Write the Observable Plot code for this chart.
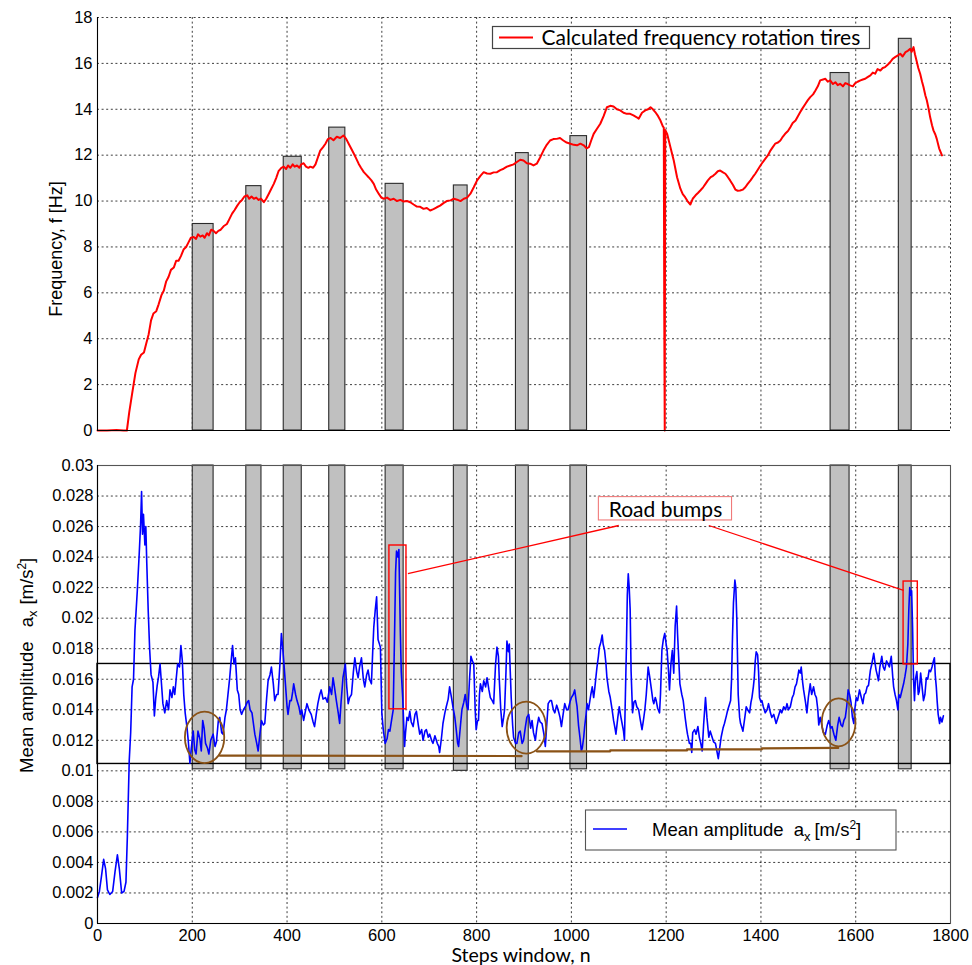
<!DOCTYPE html>
<html>
<head>
<meta charset="utf-8">
<script src="https://cdn.jsdelivr.net/npm/d3@7"></script>
<script src="https://cdn.jsdelivr.net/npm/@observablehq/plot@0.6"></script>
<style>
  html, body { margin: 0; padding: 0; background: #fff; }
  #wrap { position: relative; width: 972px; height: 965px; overflow: hidden; }
  #top, #bottom { position: absolute; left: 0; }
  #top { top: 0; }
  #bottom { top: 445px; }
  svg { overflow: visible; }
</style>
</head>
<body>
<div id="wrap"><div id="top"></div><div id="bottom"></div></div>
<script>
// ---- axes ----
const xTicks = [0, 200, 400, 600, 800, 1000, 1200, 1400, 1600, 1800];
const xTickLabels = ["0", "200", "400", "600", "800", "1000", "1200", "1400", "1600", "1800"];
const freqTicks = [0, 2, 4, 6, 8, 10, 12, 14, 16, 18];
const freqTickLabels = ["0", "2", "4", "6", "8", "10", "12", "14", "16", "18"];
const ampTicks = [0, 0.002, 0.004, 0.006, 0.008, 0.01, 0.012, 0.014, 0.016, 0.018, 0.02, 0.022, 0.024, 0.026, 0.028, 0.03];
const ampTickLabels = ["0", "0.002", "0.004", "0.006", "0.008", "0.01", "0.012", "0.014", "0.016", "0.018", "0.02", "0.022", "0.024", "0.026", "0.028", "0.03"];

// ---- bump windows (grey bars) ----
const bumpStart = [201, 314, 393, 489, 608, 752, 883, 998, 1547, 1691];
const bumpEnd   = [245, 346, 431, 523, 646, 781, 910, 1033, 1587, 1718];
const bumpFreq  = [9.0, 10.65, 11.93, 13.2, 10.75, 10.68, 12.09, 12.83, 15.58, 17.07];
const bumpAmpLow = [0.0101, 0.0101, 0.0101, 0.0101, 0.0101, 0.0100, 0.0101, 0.0101, 0.0101, 0.0101];
const bumpAmpHigh = 0.03;

// ---- calculated rotation frequency of the tires ----
const rotStep = [0,20,40,55,62,67,73,80,87,92,98,103,108,113,118,124,129,135,140,145,150,155,161,166,171,176,182,187,192,197,
  203,208,212,217,222,226,231,235,240,245,250,255,260,266,273,278,284,289,295,300,305,310,316,320,325,330,335,340,345,351,
  356,361,366,372,377,382,388,393,398,402,407,412,416,421,426,430,435,440,445,449,455,460,465,470,476,481,486,492,498,505,
  512,519,525,530,535,541,546,551,556,562,567,572,578,583,588,594,599,604,611,618,625,632,639,646,653,660,667,674,681,688,
  695,702,709,716,723,730,737,745,752,759,766,773,780,787,794,801,808,815,822,829,836,843,850,857,864,871,878,885,892,899,
  906,913,920,927,934,941,948,955,962,969,976,983,990,998,1005,1012,1019,1026,1032,1037,1042,1047,1054,1061,1068,1075,1082,1089,1096,1103,
  1110,1117,1124,1131,1138,1142,1149,1156,1162,1167,1172,1177,1183,1188,1193,1195,1196,1197,1198,1202,1209,1216,1223,1230,1235,1240,
  1245,1251,1256,1262,1267,1272,1278,1283,1288,1294,1299,1304,1309,1314,1320,1325,1330,1335,1341,1346,1351,1356,1362,1367,1372,1378,
  1383,1388,1393,1399,1404,1409,1415,1420,1425,1430,1436,1441,1446,1451,1457,1462,1467,1473,1478,1483,1488,1494,1499,1504,1510,1515,
  1520,1525,1531,1536,1541,1546,1552,1557,1562,1567,1573,1578,1583,1588,1594,1599,1604,1610,1615,1620,1625,1631,1636,1641,1646,1652,
  1657,1662,1668,1673,1678,1683,1689,1694,1699,1705,1710,1715,1718,1722,1725,1729,1732,1736,1740,1743,1747,1750,1754,1757,1761,1764,
  1768,1771,1776,1782];
const rotFreq = [0,0,0.02,0,0,0.8,1.6,2.5,3.1,3.3,3.4,3.8,4.2,4.8,5.1,5.2,5.5,5.9,6.1,6.5,6.7,7.0,7.1,7.4,7.4,7.6,7.9,8.0,8.2,8.4,
  8.43,8.35,8.55,8.45,8.5,8.4,8.6,8.5,8.75,8.7,8.6,8.7,8.75,8.9,9.0,9.2,9.45,9.6,9.8,9.95,10.05,10.2,10.25,10.1,10.2,10.1,10.15,10.05,10.1,9.95,
  10.1,10.3,10.5,10.75,11.0,11.3,11.45,11.5,11.4,11.55,11.45,11.6,11.5,11.55,11.45,11.6,11.65,11.5,11.45,11.5,11.45,11.6,11.9,12.2,12.35,12.5,12.7,12.75,12.65,12.8,
  12.75,12.86,12.7,12.5,12.3,12.06,11.85,11.63,11.45,11.26,11.15,11.04,10.9,10.75,10.5,10.3,10.15,10.1,10.15,10.05,10.1,10.0,10.05,9.98,10.0,9.95,9.85,9.76,9.75,9.66,
  9.7,9.59,9.65,9.73,9.8,9.91,10.0,10.03,10.1,10.06,10.0,10.1,10.15,10.32,10.6,10.9,11.1,11.26,11.2,11.19,11.25,11.26,11.35,11.41,11.5,11.55,11.6,11.7,11.8,11.77,
  11.65,11.63,11.55,11.63,11.9,12.2,12.45,12.64,12.7,12.71,12.75,12.64,12.55,12.5,12.45,12.43,12.5,12.43,12.3,12.35,12.65,12.93,13.15,13.37,13.7,14.09,14.15,14.12,14.0,13.95,
  13.85,13.8,13.8,13.73,13.65,13.59,13.85,13.95,14.0,14.09,14.0,13.88,13.7,13.51,13.25,13.2,4.8,0,13.1,12.93,12.35,11.77,11.04,10.54,10.3,10.17,
  10.0,9.85,10.1,10.25,10.35,10.46,10.6,10.75,10.9,11.04,11.1,11.19,11.3,11.33,11.25,11.19,11.05,10.9,10.7,10.5,10.45,10.46,10.5,10.6,10.75,10.9,
  11.05,11.19,11.35,11.55,11.7,11.84,12.0,12.2,12.35,12.5,12.55,12.64,12.8,12.93,13.05,13.22,13.4,13.51,13.7,13.88,14.05,14.24,14.4,14.53,14.65,14.82,
  15.0,15.26,15.3,15.33,15.2,15.26,15.1,15.18,15.05,15.11,15.0,15.14,15.1,15.04,15.0,15.14,15.2,15.26,15.3,15.33,15.4,15.48,15.6,15.55,15.75,15.69,
  15.8,15.84,15.95,16.06,16.2,16.27,16.35,16.42,16.3,16.49,16.55,16.64,16.5,16.71,16.4,16.06,15.8,15.55,15.2,14.97,14.6,14.39,14.0,13.66,13.3,13.08,
  12.9,12.71,12.3,11.99];

// ---- mean amplitude a_x ----
const ampStep = [0,4,8,13,17,21,26,32,37,42,46,51,56,60,63,67,70,73,76,79,84,88,91,93,95,97,100,102,104,107,110,113,117,120,123,126,129,132,135,138,
  142,146,150,153,157,160,163,166,169,173,176,179,182,185,189,192,195,198,202,205,208,212,216,219,222,225,228,232,235,239,244,248,251,255,258,262,265,269,272,276,
  279,282,285,288,291,295,298,301,304,308,312,316,319,322,326,329,332,336,339,342,346,350,353,357,360,364,367,371,374,378,381,385,388,391,393,397,400,402,406,409,
  412,414,418,421,425,428,431,435,438,442,446,451,455,458,462,465,469,472,476,481,485,490,494,497,500,504,508,511,514,518,523,526,529,532,536,540,543,547,550,553,
  557,561,564,568,571,574,578,581,583,586,589,592,595,597,600,603,607,611,614,617,620,624,627,629,631,634,636,639,641,644,648,650,653,656,659,662,666,670,673,677,
  680,684,687,691,694,698,701,705,708,712,717,720,722,726,729,733,736,740,743,747,750,754,757,760,762,766,769,773,776,779,782,785,788,791,794,797,799,802,804,806,
  808,812,815,819,822,826,829,833,836,840,843,846,848,851,854,857,859,862,864,867,869,871,873,876,878,882,885,889,892,896,899,903,906,910,914,917,920,924,927,931,
  934,938,942,945,948,951,955,958,962,965,969,972,976,979,983,986,990,993,997,1000,1004,1007,1010,1012,1015,1018,1021,1023,1026,1028,1031,1033,1036,1039,1041,1044,1047,1049,1052,1054,
  1057,1059,1062,1065,1067,1070,1073,1075,1079,1082,1086,1089,1092,1094,1098,1101,1104,1107,1110,1112,1114,1116,1118,1120,1122,1124,1126,1129,1132,1135,1138,1142,1145,1149,1152,1155,1158,1162,1165,1169,
  1172,1174,1177,1179,1182,1186,1188,1191,1194,1197,1200,1202,1205,1207,1210,1213,1216,1219,1222,1224,1227,1229,1233,1236,1240,1243,1245,1249,1252,1254,1256,1260,1263,1267,1270,1273,1276,1279,1283,1286,
  1290,1293,1297,1300,1304,1307,1310,1313,1316,1320,1323,1327,1330,1333,1336,1338,1340,1342,1345,1347,1349,1352,1355,1357,1360,1362,1366,1369,1372,1376,1379,1381,1384,1386,1388,1390,1393,1395,1397,1400,
  1402,1405,1409,1413,1416,1420,1423,1427,1432,1436,1441,1444,1448,1452,1455,1458,1462,1466,1469,1472,1475,1478,1480,1483,1485,1488,1490,1494,1497,1500,1504,1507,1511,1514,1517,1520,1522,1525,1529,1532,
  1536,1540,1543,1547,1550,1554,1558,1562,1565,1569,1572,1575,1578,1581,1584,1587,1590,1593,1596,1598,1601,1604,1608,1611,1615,1618,1621,1624,1627,1631,1634,1638,1641,1643,1646,1648,1651,1655,1658,1661,
  1665,1668,1671,1675,1678,1680,1683,1686,1689,1691,1694,1697,1701,1704,1707,1710,1712,1714,1716,1718,1720,1722,1724,1726,1729,1732,1734,1737,1740,1743,1746,1749,1752,1755,1758,1761,1764,1766,1768,1770,
  1772,1774,1777,1779,1782,1785];
const ampValue = [0.0017,0.0021,0.0030,0.0042,0.0036,0.0022,0.0019,0.0021,0.0034,0.0045,0.0036,0.0020,0.0021,0.0027,0.0057,0.0107,0.0125,0.0155,0.0160,0.0192,0.0218,0.0242,0.0262,0.0283,0.0255,0.0268,0.0248,0.0260,0.0236,0.0205,0.0180,0.0163,0.0158,0.0136,0.0148,0.0156,0.0162,0.0170,0.0157,0.0144,
  0.0138,0.0146,0.0140,0.0153,0.0148,0.0155,0.0150,0.0160,0.0170,0.0168,0.0182,0.0172,0.0150,0.0138,0.0128,0.0118,0.0105,0.0115,0.0126,0.0114,0.0111,0.0126,0.0121,0.0113,0.0133,0.0128,0.0118,0.0115,0.0111,0.0120,0.0124,0.0116,0.0119,0.0133,0.0135,0.0125,0.0124,0.0135,0.0140,0.0152,
  0.0161,0.0172,0.0182,0.0170,0.0174,0.0153,0.0150,0.0140,0.0137,0.0140,0.0142,0.0145,0.0146,0.0140,0.0138,0.0131,0.0124,0.0118,0.0113,0.0122,0.0133,0.0130,0.0131,0.0148,0.0159,0.0163,0.0168,0.0157,0.0146,0.0150,0.0150,0.0170,0.0190,0.0180,0.0172,0.0155,0.0142,0.0137,0.0146,0.0146,
  0.0152,0.0157,0.0150,0.0146,0.0142,0.0137,0.0140,0.0133,0.0138,0.0144,0.0140,0.0137,0.0132,0.0129,0.0138,0.0144,0.0150,0.0153,0.0147,0.0148,0.0145,0.0155,0.0150,0.0161,0.0155,0.0146,0.0138,0.0131,0.0145,0.0161,0.0170,0.0155,0.0144,0.0148,0.0150,0.0165,0.0174,0.0165,0.0161,0.0168,
  0.0174,0.0160,0.0155,0.0163,0.0166,0.0160,0.0157,0.0180,0.0194,0.0205,0.0214,0.0186,0.0183,0.0181,0.0138,0.0127,0.0118,0.0121,0.0127,0.0126,0.0132,0.0140,0.0192,0.0230,0.0244,0.0240,0.0245,0.0192,0.0165,0.0148,0.0116,0.0125,0.0135,0.0133,0.0139,0.0132,0.0129,0.0137,0.0139,0.0130,
  0.0124,0.0127,0.0120,0.0126,0.0127,0.0122,0.0124,0.0120,0.0118,0.0123,0.0118,0.0116,0.0112,0.0122,0.0131,0.0138,0.0142,0.0147,0.0155,0.0148,0.0142,0.0135,0.0127,0.0118,0.0116,0.0130,0.0140,0.0145,0.0150,0.0143,0.0140,0.0160,0.0175,0.0172,0.0170,0.0140,0.0127,0.0133,0.0133,0.0150,
  0.0157,0.0152,0.0159,0.0155,0.0161,0.0153,0.0148,0.0146,0.0144,0.0170,0.0181,0.0175,0.0159,0.0140,0.0129,0.0135,0.0140,0.0165,0.0185,0.0178,0.0183,0.0165,0.0148,0.0130,0.0122,0.0118,0.0118,0.0125,0.0126,0.0118,0.0120,0.0129,0.0135,0.0137,0.0128,0.0133,0.0125,0.0120,0.0128,0.0135,
  0.0132,0.0131,0.0124,0.0116,0.0130,0.0144,0.0146,0.0146,0.0140,0.0138,0.0143,0.0140,0.0135,0.0129,0.0138,0.0144,0.0140,0.0140,0.0145,0.0148,0.0150,0.0153,0.0146,0.0142,0.0130,0.0122,0.0113,0.0115,0.0122,0.0129,0.0137,0.0144,0.0140,0.0146,0.0150,0.0155,0.0148,0.0153,0.0162,0.0168,
  0.0175,0.0181,0.0184,0.0189,0.0183,0.0179,0.0170,0.0161,0.0152,0.0148,0.0140,0.0133,0.0128,0.0124,0.0135,0.0142,0.0136,0.0131,0.0126,0.0120,0.0150,0.0179,0.0215,0.0229,0.0220,0.0206,0.0165,0.0138,0.0145,0.0146,0.0142,0.0140,0.0134,0.0127,0.0133,0.0140,0.0150,0.0168,0.0162,0.0153,
  0.0146,0.0144,0.0148,0.0146,0.0141,0.0138,0.0150,0.0179,0.0186,0.0190,0.0183,0.0179,0.0165,0.0153,0.0170,0.0179,0.0164,0.0195,0.0208,0.0190,0.0170,0.0157,0.0150,0.0146,0.0135,0.0128,0.0124,0.0118,0.0118,0.0112,0.0125,0.0127,0.0124,0.0129,0.0122,0.0118,0.0113,0.0130,0.0148,0.0135,
  0.0122,0.0126,0.0122,0.0119,0.0118,0.0113,0.0108,0.0115,0.0122,0.0128,0.0131,0.0136,0.0140,0.0143,0.0146,0.0160,0.0188,0.0210,0.0225,0.0220,0.0200,0.0150,0.0135,0.0131,0.0128,0.0126,0.0135,0.0142,0.0140,0.0138,0.0145,0.0148,0.0155,0.0161,0.0172,0.0178,0.0176,0.0165,0.0148,0.0145,
  0.0146,0.0142,0.0138,0.0140,0.0144,0.0138,0.0135,0.0137,0.0131,0.0135,0.0140,0.0138,0.0142,0.0140,0.0144,0.0140,0.0142,0.0148,0.0150,0.0155,0.0157,0.0162,0.0166,0.0164,0.0168,0.0158,0.0153,0.0145,0.0138,0.0148,0.0157,0.0150,0.0155,0.0150,0.0148,0.0140,0.0130,0.0135,0.0129,0.0125,
  0.0124,0.0130,0.0133,0.0128,0.0129,0.0124,0.0120,0.0130,0.0135,0.0130,0.0129,0.0133,0.0135,0.0142,0.0153,0.0150,0.0145,0.0135,0.0131,0.0140,0.0148,0.0146,0.0153,0.0149,0.0144,0.0150,0.0151,0.0155,0.0156,0.0166,0.0170,0.0177,0.0170,0.0166,0.0162,0.0159,0.0168,0.0175,0.0168,0.0166,
  0.0172,0.0170,0.0168,0.0175,0.0162,0.0155,0.0150,0.0146,0.0140,0.0150,0.0148,0.0152,0.0157,0.0162,0.0168,0.0183,0.0205,0.0220,0.0215,0.0218,0.0194,0.0160,0.0146,0.0160,0.0165,0.0150,0.0152,0.0164,0.0155,0.0146,0.0150,0.0161,0.0160,0.0166,0.0165,0.0168,0.0172,0.0174,0.0162,0.0155,
  0.0145,0.0137,0.0131,0.0135,0.0132,0.0136];

// ---- reference band and low-level trend ----
const bandLow = 0.01045, bandHigh = 0.0170;
const trendStep  = [258, 895, 927, 1082, 1082, 1244, 1244, 1402, 1402, 1563];
const trendAmp   = [0.01100, 0.01097, 0.01128, 0.01128, 0.01134, 0.01134, 0.01141, 0.01141, 0.01147, 0.01150];
const trendGroup = [1, 1, 2, 2, 2, 2, 2, 2, 2, 2];
const loopStep = [227, 906, 1565];
const loopAmp = [0.01216, 0.0128, 0.01314];
const loopHalfSteps = [41.5, 41.5, 35.5];
const loopHalfAmp = [0.00169, 0.0017, 0.00157];

// ---- road bump callout ----
const peakStart = [616, 1701], peakEnd = [652, 1731];
const peakLow = [0.01403, 0.01697], peakHigh = [0.02476, 0.0224];
const calloutFromStep = [1100, 1290], calloutFromAmp = [0.02607, 0.02607];
const calloutToStep = [655, 1701], calloutToAmp = [0.02291, 0.02182];
const calloutLabel = "Road bumps";
const calloutStep = [1058, 1339], calloutAmp = [0.0264, 0.02793];

// ---- tables ----
const bumps = bumpStart.map((s, i) => ({x1: s, x2: bumpEnd[i], f: bumpFreq[i], lo: bumpAmpLow[i], hi: bumpAmpHigh}));
const rot = rotStep.map((n, i) => ({n, f: rotFreq[i]}));
const amp = ampStep.map((n, i) => ({n, a: ampValue[i]}));
const trend = trendStep.map((n, i) => ({n, a: trendAmp[i], g: trendGroup[i]}));
const peaks = peakStart.map((s, i) => ({x1: s, x2: peakEnd[i], y1: peakLow[i], y2: peakHigh[i]}));
const callouts = calloutFromStep.map((s, i) => ({x1: s, y1: calloutFromAmp[i], x2: calloutToStep[i], y2: calloutToAmp[i]}));
const band = [{x1: xTicks[0], x2: xTicks[xTicks.length - 1], y1: bandLow, y2: bandHigh}];
const calloutBox = [{x1: calloutStep[0], x2: calloutStep[1], y1: calloutAmp[0], y2: calloutAmp[1], label: calloutLabel}];

const freqLabel = new Map(freqTicks.map((d, i) => [d, freqTickLabels[i]]));
const ampLabel = new Map(ampTicks.map((d, i) => [d, ampTickLabels[i]]));
const xLabel = new Map(xTicks.map((d, i) => [d, xTickLabels[i]]));

const helv = "'Liberation Sans', Arial, Helvetica, sans-serif";
const cali = "Lato, 'Open Sans', sans-serif";
const gridStyle = {stroke: "#000", strokeOpacity: 0.85, strokeWidth: 0.9, strokeDasharray: "2,2.6"};
const barStyle = {fill: "#c0c0c0", stroke: "#2a2a2a", strokeWidth: 1.1};

// ---- upper panel: frequency ----
const topPlot = Plot.plot({
  width: 972, height: 445,
  marginTop: 17, marginBottom: 15, marginLeft: 97, marginRight: 22,
  x: {domain: [0, 1800], axis: null, label: null},
  y: {domain: [0, 18], axis: null, label: null},
  style: {fontFamily: helv, fontSize: "16.5px", color: "#000", background: "transparent"},
  marks: [
    Plot.gridX(xTicks.slice(1), gridStyle),
    Plot.gridY(freqTicks.slice(1), gridStyle),
    Plot.rect(bumps, {x1: "x1", x2: "x2", y1: 0, y2: "f", ...barStyle}),
    Plot.line(rot, {x: "n", y: "f", stroke: "#ff0000", strokeWidth: 2}),
    Plot.ruleX([0], {stroke: "#000", strokeWidth: 1.1}),
    Plot.ruleY([0], {stroke: "#000", strokeWidth: 1.1}),
    Plot.axisY(freqTicks, {tickSize: 0, tickPadding: 5, fontSize: 16.5, label: null, tickFormat: d => freqLabel.get(d)})
  ]
});
document.getElementById("top").appendChild(topPlot);

{
  const svg = d3.select(topPlot);
  svg.append("text")
    .attr("transform", "translate(62,249) rotate(-90)")
    .attr("text-anchor", "middle")
    .attr("font-family", helv).attr("font-size", 18).attr("fill", "#000")
    .text("Frequency, f [Hz]");
  const lg = svg.append("g");
  lg.append("rect").attr("x", 492.5).attr("y", 26.5).attr("width", 377).attr("height", 22)
    .attr("fill", "#fff").attr("stroke", "#444").attr("stroke-width", 1.2);
  lg.append("line").attr("x1", 499).attr("x2", 533).attr("y1", 37.5).attr("y2", 37.5)
    .attr("stroke", "#ff0000").attr("stroke-width", 1.8);
  lg.append("text").attr("x", 541.5).attr("y", 44.5)
    .attr("text-anchor", "start")
    .attr("font-family", cali).attr("font-size", 21).attr("fill", "#000")
    .text("Calculated frequency rotation tires");
}

// ---- lower panel: mean amplitude ----
const bottomPlot = Plot.plot({
  width: 972, height: 520,
  marginTop: 20, marginBottom: 42, marginLeft: 97, marginRight: 22,
  x: {domain: [0, 1800], axis: null, label: null},
  y: {domain: [0, 0.03], axis: null, label: null},
  style: {fontFamily: helv, fontSize: "16.5px", color: "#000", background: "transparent"},
  marks: [
    Plot.gridX(xTicks.slice(1, -1), gridStyle),
    Plot.gridY(ampTicks.slice(1, -1), gridStyle),
    Plot.rect(bumps, {x1: "x1", x2: "x2", y1: "lo", y2: "hi", ...barStyle}),
    Plot.frame({stroke: "#555", strokeWidth: 1.1}),
    Plot.rect(band, {x1: "x1", x2: "x2", y1: "y1", y2: "y2", fill: "none", stroke: "#000", strokeWidth: 1.4}),
    Plot.line(amp, {x: "n", y: "a", stroke: "#0000ff", strokeWidth: 1.6}),
    Plot.line(trend, {x: "n", y: "a", z: "g", stroke: "#8a5216", strokeWidth: 2.2}),
    Plot.rect(peaks, {x1: "x1", x2: "x2", y1: "y1", y2: "y2", fill: "none", stroke: "#ff0000", strokeWidth: 1.4}),
    Plot.link(callouts, {x1: "x1", y1: "y1", x2: "x2", y2: "y2", stroke: "#ff0000", strokeWidth: 1.3}),
    Plot.rect(calloutBox, {x1: "x1", x2: "x2", y1: "y1", y2: "y2", fill: "#fff", stroke: "#f07a7a", strokeWidth: 1.1}),
    Plot.text(calloutBox, {x: d => (d.x1 + d.x2) / 2, y: d => (d.y1 + d.y2) / 2, text: "label",
      fontFamily: cali, fontSize: 21, fill: "#000", dy: 1}),
    Plot.ruleX([0], {stroke: "#000", strokeWidth: 1.1}),
    Plot.ruleY([0], {stroke: "#000", strokeWidth: 1.1}),
    Plot.axisY(ampTicks, {tickSize: 0, tickPadding: 4, fontSize: 16.5, label: null, tickFormat: d => ampLabel.get(d)}),
    Plot.axisX(xTicks, {tickSize: 0, tickPadding: 6, fontSize: 16.5, label: null, tickFormat: d => xLabel.get(d)})
  ]
});
document.getElementById("bottom").appendChild(bottomPlot);

{
  const svg = d3.select(bottomPlot);
  const x = bottomPlot.scale("x"), y = bottomPlot.scale("y");
  // circled low-level regions
  const loops = svg.append("g").attr("fill", "none").attr("stroke", "#8a5216").attr("stroke-width", 1.8);
  loopStep.forEach((s, i) => {
    const cx = x.apply(s), cy = y.apply(loopAmp[i]);
    loops.append("ellipse")
      .attr("cx", cx).attr("cy", cy)
      .attr("rx", x.apply(s + loopHalfSteps[i]) - cx)
      .attr("ry", cy - y.apply(loopAmp[i] + loopHalfAmp[i]));
  });

  // axis titles
  const yl = svg.append("text")
    .attr("transform", "translate(33,328) rotate(-90)")
    .attr("text-anchor", "start")
    .attr("font-family", helv).attr("font-size", 18.5).attr("fill", "#000");
  yl.append("tspan").text("Mean amplitude");
  yl.append("tspan").attr("dx", 14).text("a");
  yl.append("tspan").attr("dy", 4).attr("font-size", 13).text("x");
  yl.append("tspan").attr("dy", -4).attr("dx", 6).text("[m/s");
  yl.append("tspan").attr("dy", -7).attr("font-size", 12).text("2");
  yl.append("tspan").attr("dy", 7).text("]");

  svg.append("text").attr("x", 521).attr("y", 516.5)
    .attr("text-anchor", "middle")
    .attr("font-family", cali).attr("font-size", 19.5).attr("fill", "#000")
    .text("Steps window, n");

  // legend
  const lg = svg.append("g");
  lg.append("rect").attr("x", 585.5).attr("y", 365).attr("width", 310.5).attr("height", 40)
    .attr("fill", "#fff").attr("stroke", "#555").attr("stroke-width", 1.1);
  lg.append("line").attr("x1", 593).attr("x2", 627).attr("y1", 384).attr("y2", 384)
    .attr("stroke", "#0000ff").attr("stroke-width", 1.5);
  const lt = lg.append("text").attr("x", 652).attr("y", 390.5)
    .attr("text-anchor", "start")
    .attr("font-family", helv).attr("font-size", 18.5).attr("fill", "#000");
  lt.append("tspan").text("Mean amplitude");
  lt.append("tspan").attr("dx", 10).text("a");
  lt.append("tspan").attr("dy", 5).attr("font-size", 13).text("x");
  lt.append("tspan").attr("dy", -5).attr("dx", 4).text("[m/s");
  lt.append("tspan").attr("dy", -7).attr("font-size", 12).text("2");
  lt.append("tspan").attr("dy", 7).text("]");
}
</script>
</body>
</html>
